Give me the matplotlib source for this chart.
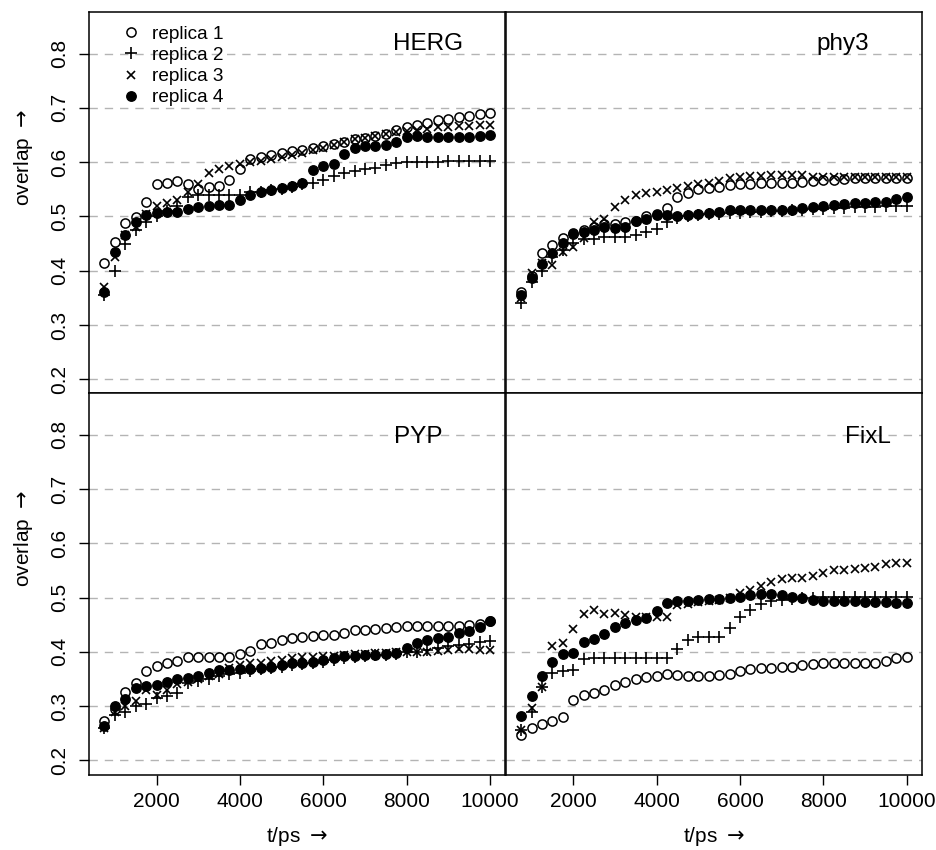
import matplotlib
matplotlib.use("Agg")
import matplotlib.pyplot as plt

plt.rcParams['font.family'] = ['Liberation Sans', 'DejaVu Sans']
plt.rcParams['mathtext.fontset'] = 'dejavusans'

# -------------------------------------------------------
# DATA
# -------------------------------------------------------
t_ps = [750, 1000, 1250, 1500, 1750, 2000, 2250, 2500, 2750, 3000,
        3250, 3500, 3750, 4000, 4250, 4500, 4750, 5000, 5250, 5500,
        5750, 6000, 6250, 6500, 6750, 7000, 7250, 7500, 7750, 8000,
        8250, 8500, 8750, 9000, 9250, 9500, 9750, 10000]

herg_r1 = [0.415, 0.453, 0.488, 0.499, 0.526, 0.56, 0.562, 0.565, 0.56, 0.55,
           0.555, 0.557, 0.567, 0.588, 0.605, 0.61, 0.613, 0.617, 0.62, 0.623,
           0.627, 0.63, 0.633, 0.638, 0.642, 0.645, 0.648, 0.652, 0.659, 0.665,
           0.669, 0.673, 0.677, 0.68, 0.683, 0.685, 0.688, 0.69]
herg_r2 = [0.355, 0.40, 0.45, 0.475, 0.49, 0.50, 0.51, 0.52, 0.535, 0.54,
           0.54, 0.54, 0.54, 0.54, 0.545, 0.545, 0.548, 0.55, 0.555, 0.56,
           0.562, 0.568, 0.575, 0.58, 0.583, 0.587, 0.59, 0.595, 0.598, 0.60,
           0.60, 0.601, 0.601, 0.602, 0.602, 0.603, 0.603, 0.603]
herg_r3 = [0.37, 0.425, 0.465, 0.48, 0.505, 0.52, 0.525, 0.53, 0.545, 0.56,
           0.58, 0.588, 0.593, 0.597, 0.60, 0.603, 0.606, 0.61, 0.613, 0.617,
           0.622, 0.627, 0.632, 0.638, 0.642, 0.645, 0.648, 0.652, 0.655, 0.658,
           0.66, 0.662, 0.664, 0.665, 0.666, 0.667, 0.668, 0.668]
herg_r4 = [0.36, 0.435, 0.465, 0.49, 0.502, 0.506, 0.508, 0.508, 0.513, 0.517,
           0.519, 0.521, 0.521, 0.53, 0.54, 0.545, 0.548, 0.552, 0.557, 0.562,
           0.585, 0.593, 0.596, 0.615, 0.627, 0.629, 0.63, 0.631, 0.637, 0.646,
           0.648, 0.647, 0.647, 0.646, 0.646, 0.647, 0.648, 0.65]

phy3_r1 = [0.361, 0.39, 0.433, 0.447, 0.46, 0.47, 0.475, 0.48, 0.487, 0.486,
           0.49, 0.492, 0.50, 0.505, 0.515, 0.535, 0.543, 0.55, 0.553, 0.555,
           0.558, 0.56, 0.56, 0.561, 0.561, 0.562, 0.562, 0.563, 0.565, 0.567,
           0.568, 0.569, 0.57, 0.57, 0.57, 0.57, 0.57, 0.57]
phy3_r2 = [0.34, 0.38, 0.399, 0.425, 0.438, 0.452, 0.458, 0.458, 0.462, 0.463,
           0.463, 0.465, 0.471, 0.476, 0.49, 0.498, 0.50, 0.502, 0.504, 0.505,
           0.506, 0.507, 0.508, 0.509, 0.51, 0.51, 0.511, 0.512, 0.513, 0.514,
           0.515, 0.516, 0.517, 0.518, 0.518, 0.519, 0.519, 0.519]
phy3_r3 = [0.35, 0.396, 0.415, 0.41, 0.435, 0.444, 0.46, 0.49, 0.496, 0.517,
           0.53, 0.54, 0.543, 0.545, 0.548, 0.553, 0.557, 0.56, 0.562, 0.565,
           0.57, 0.573, 0.575, 0.575, 0.576, 0.576, 0.576, 0.576, 0.573, 0.573,
           0.572, 0.572, 0.572, 0.572, 0.572, 0.572, 0.572, 0.572]
phy3_r4 = [0.355, 0.386, 0.413, 0.432, 0.451, 0.468, 0.471, 0.475, 0.48, 0.479,
           0.481, 0.492, 0.496, 0.502, 0.502, 0.50, 0.502, 0.504, 0.506, 0.508,
           0.511, 0.511, 0.512, 0.512, 0.512, 0.512, 0.512, 0.515, 0.517, 0.52,
           0.522, 0.523, 0.524, 0.525, 0.526, 0.527, 0.533, 0.535]

pyp_r1 = [0.273, 0.295, 0.327, 0.343, 0.364, 0.374, 0.38, 0.383, 0.39, 0.39,
          0.39, 0.39, 0.391, 0.397, 0.402, 0.414, 0.417, 0.422, 0.425, 0.427,
          0.429, 0.431, 0.431, 0.434, 0.44, 0.441, 0.443, 0.444, 0.445, 0.448,
          0.448, 0.448, 0.448, 0.447, 0.448, 0.45, 0.452, 0.456]
pyp_r2 = [0.26, 0.284, 0.29, 0.30, 0.304, 0.315, 0.318, 0.325, 0.342, 0.347,
          0.35, 0.355, 0.36, 0.362, 0.365, 0.368, 0.37, 0.372, 0.375, 0.377,
          0.38, 0.382, 0.385, 0.388, 0.39, 0.392, 0.394, 0.395, 0.397, 0.399,
          0.40, 0.403, 0.407, 0.41, 0.413, 0.415, 0.418, 0.42]
pyp_r3 = [0.26, 0.29, 0.30, 0.31, 0.33, 0.32, 0.33, 0.34, 0.345, 0.35,
          0.355, 0.36, 0.37, 0.375, 0.38, 0.38, 0.383, 0.385, 0.388, 0.39,
          0.39, 0.392, 0.393, 0.395, 0.397, 0.397, 0.398, 0.398, 0.399, 0.40,
          0.40, 0.40, 0.402, 0.403, 0.405, 0.405, 0.403, 0.403]
pyp_r4 = [0.264, 0.30, 0.313, 0.333, 0.337, 0.339, 0.345, 0.35, 0.352, 0.355,
          0.362, 0.366, 0.366, 0.368, 0.368, 0.37, 0.373, 0.376, 0.379, 0.38,
          0.382, 0.385, 0.388, 0.392, 0.393, 0.394, 0.395, 0.397, 0.398, 0.407,
          0.416, 0.422, 0.426, 0.428, 0.434, 0.439, 0.445, 0.456]

fixl_r1 = [0.247, 0.259, 0.267, 0.272, 0.281, 0.312, 0.321, 0.324, 0.33, 0.339,
           0.345, 0.35, 0.353, 0.356, 0.359, 0.358, 0.356, 0.356, 0.356, 0.357,
           0.359, 0.364, 0.368, 0.37, 0.37, 0.373, 0.373, 0.376, 0.378, 0.379,
           0.38, 0.38, 0.38, 0.379, 0.38, 0.384, 0.388, 0.391]
fixl_r2 = [0.256, 0.29, 0.336, 0.361, 0.364, 0.366, 0.387, 0.388, 0.388, 0.388,
           0.388, 0.388, 0.388, 0.388, 0.388, 0.405, 0.422, 0.427, 0.428, 0.428,
           0.444, 0.464, 0.477, 0.488, 0.493, 0.496, 0.497, 0.499, 0.50, 0.501,
           0.502, 0.502, 0.502, 0.502, 0.502, 0.502, 0.502, 0.502]
fixl_r3 = [0.256, 0.296, 0.336, 0.411, 0.416, 0.442, 0.47, 0.477, 0.47, 0.472,
           0.468, 0.464, 0.464, 0.464, 0.464, 0.487, 0.488, 0.491, 0.493, 0.496,
           0.499, 0.508, 0.514, 0.522, 0.528, 0.534, 0.536, 0.536, 0.539, 0.545,
           0.55, 0.55, 0.552, 0.554, 0.557, 0.562, 0.564, 0.564]
fixl_r4 = [0.282, 0.319, 0.355, 0.382, 0.396, 0.398, 0.419, 0.423, 0.433, 0.445,
           0.454, 0.459, 0.462, 0.475, 0.49, 0.494, 0.494, 0.495, 0.497, 0.497,
           0.499, 0.501, 0.505, 0.507, 0.507, 0.505, 0.501, 0.499, 0.495, 0.494,
           0.493, 0.493, 0.493, 0.491, 0.491, 0.491, 0.49, 0.49]

PANELS = [
    ("HERG", [herg_r1, herg_r2, herg_r3, herg_r4]),
    ("phy3", [phy3_r1, phy3_r2, phy3_r3, phy3_r4]),
    ("PYP", [pyp_r1, pyp_r2, pyp_r3, pyp_r4]),
    ("FixL", [fixl_r1, fixl_r2, fixl_r3, fixl_r4]),
]
REPLICAS = ["replica 1", "replica 2", "replica 3", "replica 4"]

# -------------------------------------------------------
# STYLE
# -------------------------------------------------------
MARKERS = [
    dict(marker="o", mfc="none", mec="black", ms=6.6, mew=1.1),
    dict(marker="+", mec="black", ms=9.0, mew=1.2),
    dict(marker="x", mec="black", ms=6.4, mew=1.2),
    dict(marker="o", mfc="black", mec="black", ms=6.8, mew=1.0),
]
# panel title positions (axes fraction)
TITLE_POS = {"HERG": (0.815, 0.918), "phy3": (0.81, 0.918),
             "PYP": (0.79, 0.886), "FixL": (0.87, 0.886)}

XLIM = (380, 10370)
YLIM = (0.174, 0.876)

# axes boxes in figure fractions
left_x, right_x, width = 0.0950, 0.5397, 0.4444
top_y, bot_y, height = 0.5371, 0.0887, 0.4484

fig = plt.figure(figsize=(9.37, 8.5), dpi=100)
boxes = [(left_x, top_y), (right_x, top_y), (left_x, bot_y), (right_x, bot_y)]

for i, ((name, series), (x0, y0)) in enumerate(zip(PANELS, boxes)):
    ax = fig.add_axes([x0, y0, width, height])
    ax.set_xlim(*XLIM)
    ax.set_ylim(*YLIM)

    for yv in [0.2, 0.3, 0.4, 0.5, 0.6, 0.7, 0.8]:
        ax.axhline(yv, color="#b4b4b4", lw=1.0, ls=(0, (6, 5)), zorder=0)

    for vals, style, lab in zip(series, MARKERS, REPLICAS):
        ax.plot(t_ps, vals, ls="none", label=lab, **style)

    ax.text(*TITLE_POS[name], name, transform=ax.transAxes,
            ha="center", va="center", fontsize=17.5)

    for sp in ax.spines.values():
        sp.set_linewidth(1.1)

    is_left = i % 2 == 0
    is_bottom = i >= 2
    ax.set_yticks([0.2, 0.3, 0.4, 0.5, 0.6, 0.7, 0.8])
    ax.set_xticks([2000, 4000, 6000, 8000, 10000])
    ax.tick_params(axis="y", direction="out", length=7.5, width=1.0,
                   labelsize=15, pad=7, left=is_left, labelleft=is_left)
    ax.tick_params(axis="x", direction="out", length=7.5, width=1.0,
                   labelsize=15, pad=5, bottom=is_bottom,
                   labelbottom=is_bottom)
    if is_left:
        for lab in ax.get_yticklabels():
            lab.set_rotation(90)
            lab.set_va("center")
        ax.set_ylabel("overlap $\\rightarrow$", fontsize=15)
        ax.yaxis.set_label_coords(-0.13, 0.62)
    if is_bottom:
        ax.set_xlabel("t/ps $\\rightarrow$", fontsize=15, labelpad=10)

    if i == 0:
        ax.legend(loc="upper left", bbox_to_anchor=(0.045, 1.0), frameon=False,
                  fontsize=13.7, handlelength=1.0, handletextpad=0.6,
                  labelspacing=0.2, borderaxespad=0.3)

fig.savefig("out.png", dpi=100)
